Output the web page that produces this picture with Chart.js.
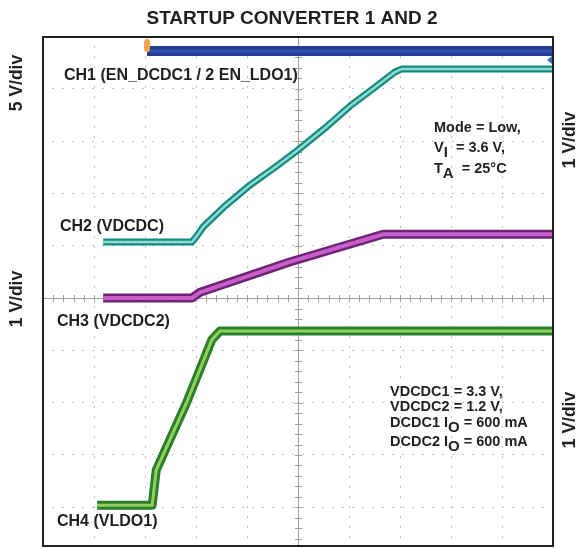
<!DOCTYPE html>
<html>
<head>
<meta charset="utf-8">
<script src="https://cdn.jsdelivr.net/npm/chart.js@4.4.1/dist/chart.umd.min.js"></script>
<style>
  html, body { margin: 0; padding: 0; background: #fff; }
  #wrap { width: 583px; height: 548px; }
</style>
</head>
<body>
<div id="wrap"><canvas id="scope" width="583" height="548"></canvas></div>
<script>
// scope traces, x and y both in screen divisions (centre of screen = 0,0)
const ch1Time = [-2.96, 5];
const ch1Div = [4.72, 4.72];

const ch2Time = [-3.82, -2.08, -1.98, -1.86, -1.43, -0.94, -0.45, 0, 0.53, 1.02, 1.51, 1.90, 2.04, 5];
const ch2Div = [1.07, 1.07, 1.19, 1.36, 1.76, 2.16, 2.50, 2.83, 3.25, 3.67, 4.03, 4.32, 4.38, 4.38];

const ch3Time = [-3.82, -2.08, -1.92, -0.16, 1.67, 5];
const ch3Div = [0, 0, 0.11, 0.69, 1.22, 1.22];

const ch4Time = [-3.94, -2.86, -2.84, -2.78, -2.18, -1.69, -1.53, 5];
const ch4Div = [-3.96, -3.96, -3.80, -3.29, -1.99, -0.80, -0.63, -0.63];

const xGrid = [-5, -4, -3, -2, -1, 0, 1, 2, 3, 4, 5];
const yGrid = [-4, -3, -2, -1, 0, 1, 2, 3, 4];

const FONT = "'Liberation Sans', Arial, sans-serif";

function pts(xs, ys) {
    return xs.map((x, i) => ({ x: x, y: ys[i] }));
}

// thick dark band underneath (order 1), lighter core on top (order 0)
function trace(xs, ys, color, width, order) {
    return {
        data: pts(xs, ys),
        borderColor: color,
        borderWidth: width,
        order: order,
        pointRadius: 0,
        tension: 0,
        borderJoinStyle: "round",
        borderCapStyle: "butt"
    };
}

const scopeDecor = {
    id: "scopeDecor",
    beforeDatasetsDraw(chart) {
        const ctx = chart.ctx;
        const x = chart.scales.x;
        const y = chart.scales.y;
        const x0 = x.getPixelForValue(0);
        const y0 = y.getPixelForValue(0);
        const a = chart.chartArea;

        ctx.save();
        ctx.strokeStyle = "#a29d95";
        ctx.lineWidth = 1;
        ctx.beginPath();
        ctx.moveTo(a.left, y0 + 0.5);
        ctx.lineTo(a.right, y0 + 0.5);
        ctx.moveTo(x0 + 0.5, a.top);
        ctx.lineTo(x0 + 0.5, a.bottom);
        // minor ticks along the centre lines
        for (let v = -5; v <= 5.001; v += 0.2) {
            const px = Math.round(x.getPixelForValue(v)) + 0.5;
            ctx.moveTo(px, y0 - 3);
            ctx.lineTo(px, y0 + 4);
        }
        for (let v = -4.8; v <= 5.001; v += 0.2) {
            const py = Math.round(y.getPixelForValue(v)) + 0.5;
            if (py < a.top || py > a.bottom) continue;
            ctx.moveTo(x0 - 3, py);
            ctx.lineTo(x0 + 4, py);
        }
        ctx.stroke();
        ctx.restore();
    },
    afterDraw(chart) {
        const ctx = chart.ctx;
        const a = chart.chartArea;
        const x = chart.scales.x;
        const y = chart.scales.y;

        ctx.save();
        // frame
        ctx.strokeStyle = "#231f20";
        ctx.lineWidth = 2;
        ctx.strokeRect(a.left, a.top, a.right - a.left, a.bottom - a.top);

        // trigger marker
        const tx = x.getPixelForValue(ch1Time[0]);
        ctx.fillStyle = "#f2a64a";
        ctx.beginPath();
        ctx.roundRect(tx - 3, a.top + 2, 6, 13, 3);
        ctx.fill();

        // channel ref arrow at right edge
        ctx.fillStyle = "#2f6fd0";
        const ay = y.getPixelForValue(ch2Div[ch2Div.length - 1]) - 9;
        ctx.beginPath();
        ctx.moveTo(a.right - 1, ay - 4);
        ctx.lineTo(a.right - 6, ay);
        ctx.lineTo(a.right - 1, ay + 4);
        ctx.fill();

        ctx.fillStyle = "#231f20";
        ctx.textBaseline = "middle";

        ctx.font = "bold 19px " + FONT;
        ctx.textAlign = "center";
        ctx.fillText("STARTUP CONVERTER 1 AND 2", 292, 19);

        ctx.textAlign = "left";
        ctx.font = "bold 16px " + FONT;
        ctx.fillText("CH1 (EN_DCDC1 / 2 EN_LDO1)", 64, 76);
        ctx.fillText("CH2 (VDCDC)", 60, 227);
        ctx.fillText("CH3 (VDCDC2)", 57, 322);
        ctx.fillText("CH4 (VLDO1)", 57, 522);

        // conditions, with subscripts
        function sub(parts, px, py) {
            let cx = px;
            parts.forEach(p => {
                ctx.font = (p.s ? "bold 15px " : "bold 14.5px ") + FONT;
                ctx.fillText(p.t, cx, py + (p.s ? 5 : 0));
                cx += ctx.measureText(p.t).width;
            });
        }
        sub([{ t: "Mode = Low," }], 434, 128);
        sub([{ t: "V" }, { t: "I", s: true }, { t: "  = 3.6 V," }], 434, 148);
        sub([{ t: "T" }, { t: "A", s: true }, { t: "  = 25°C" }], 434, 169);

        sub([{ t: "VDCDC1 = 3.3 V," }], 390, 392);
        sub([{ t: "VDCDC2 = 1.2 V," }], 390, 407);
        sub([{ t: "DCDC1 I" }, { t: "O", s: true }, { t: " = 600 mA" }], 390, 423);
        sub([{ t: "DCDC2 I" }, { t: "O", s: true }, { t: " = 600 mA" }], 390, 442);

        // vertical scale labels
        ctx.font = "bold 17.5px " + FONT;
        ctx.textAlign = "center";
        [[17, 83, "5 V/div"], [17, 299, "1 V/div"], [570, 140, "1 V/div"], [570, 420, "1 V/div"]]
            .forEach(([lx, ly, txt]) => {
                ctx.save();
                ctx.translate(lx, ly);
                ctx.rotate(-Math.PI / 2);
                ctx.fillText(txt, 0, 0);
                ctx.restore();
            });
        ctx.restore();
    }
};

const gridStyle = {
    color: "#b4c2d4",
    lineWidth: 1,
    drawTicks: false
};

new Chart(document.getElementById("scope"), {
    type: "line",
    plugins: [scopeDecor],
    data: {
        datasets: [
            trace(ch1Time, ch1Div, "#233f92", 10, 1),
            trace(ch1Time, ch1Div, "#3352b2", 3, 0),
            trace(ch2Time, ch2Div, "#168a7e", 7, 1),
            trace(ch2Time, ch2Div, "#8edbd2", 2.5, 0),
            trace(ch3Time, ch3Div, "#6d2478", 9, 1),
            trace(ch3Time, ch3Div, "#c85ec8", 4, 0),
            trace(ch4Time, ch4Div, "#2b7f2c", 9, 1),
            trace(ch4Time, ch4Div, "#93d05a", 3, 0)
        ]
    },
    options: {
        responsive: false,
        animation: false,
        events: [],
        layout: {
            padding: { left: 43, top: 37, right: 30, bottom: 2 }
        },
        plugins: {
            legend: { display: false },
            tooltip: { enabled: false }
        },
        scales: {
            x: {
                type: "linear",
                min: -5,
                max: 5,
                afterBuildTicks: (axis) => {
                    axis.ticks = xGrid.map(v => ({ value: v }));
                },
                ticks: { display: false },
                grid: gridStyle,
                border: { display: false, dash: [2, 8], dashOffset: 1 }
            },
            y: {
                type: "linear",
                min: -4.74,
                max: 4.99,
                afterBuildTicks: (axis) => {
                    axis.ticks = yGrid.map(v => ({ value: v }));
                },
                ticks: { display: false },
                grid: gridStyle,
                border: { display: false, dash: [2, 8], dashOffset: 1 }
            }
        }
    }
});
</script>
</body>
</html>
